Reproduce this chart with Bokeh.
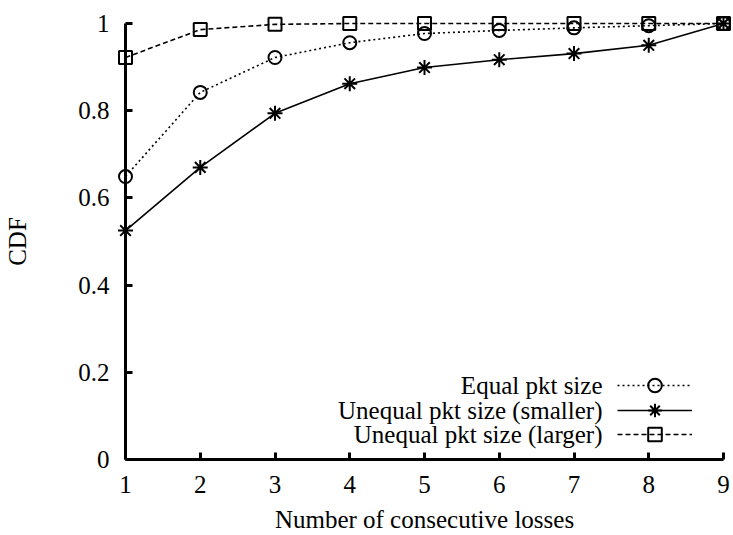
from bokeh.plotting import figure
from bokeh.models import (Range1d, FixedTicker, Legend, LegendItem, Label)
from bokeh.embed import file_html
from bokeh.resources import INLINE

# Consecutive-loss CDF for three packet-size configurations
losses = [1, 2, 3, 4, 5, 6, 7, 8, 9]
equal_pkt = [0.649, 0.842, 0.922, 0.956, 0.977, 0.984, 0.990, 0.995, 1.0]
unequal_smaller = [0.525, 0.670, 0.794, 0.862, 0.899, 0.917, 0.931, 0.950, 1.0]
unequal_larger = [0.922, 0.986, 0.998, 1.0, 1.0, 1.0, 1.0, 1.0, 1.0]

series_names = ["Equal pkt size", "Unequal pkt size (smaller)", "Unequal pkt size (larger)"]
x_ticks = [1, 2, 3, 4, 5, 6, 7, 8, 9]
y_ticks = [0, 0.2, 0.4, 0.6, 0.8, 1]
y_tick_labels = ["0", "0.2", "0.4", "0.6", "0.8", "1"]

FONT = "Liberation Serif"
FS = "25px"

p = figure(width=733, height=535, output_backend="svg", toolbar_location=None,
           x_range=Range1d(1, 9), y_range=Range1d(0, 1),
           min_border_left=125, min_border_right=10,
           min_border_top=23, min_border_bottom=76)
p.outline_line_color = None
p.grid.visible = False
p.background_fill_color = "white"
p.border_fill_color = "white"

for ax in (p.xaxis[0], p.yaxis[0]):
    ax.axis_line_width = 3
    ax.major_tick_line_width = 3
    ax.major_tick_in = 7
    ax.major_tick_out = 0
    ax.minor_tick_line_color = None
    ax.major_label_text_font = FONT
    ax.major_label_text_font_size = FS
    ax.major_label_text_color = "black"
    ax.axis_label_text_font = FONT
    ax.axis_label_text_font_size = FS
    ax.axis_label_text_font_style = "normal"
    ax.axis_label_text_color = "black"

p.xaxis.ticker = FixedTicker(ticks=x_ticks)
p.yaxis.ticker = FixedTicker(ticks=y_ticks)
p.yaxis.major_label_overrides = {v: s for v, s in zip(y_ticks, y_tick_labels)}
p.xaxis.axis_label = "Number of consecutive losses"
p.yaxis.axis_label = "CDF"
p.xaxis.major_label_standoff = 16
p.xaxis.axis_label_standoff = 10
p.yaxis.major_label_standoff = 16
p.yaxis.axis_label_standoff = 44

# (values, marker, dash pattern, marker size)
styles = [
    (equal_pkt, "circle", "2 3", 13),
    (unequal_smaller, "asterisk", "solid", 15),
    (unequal_larger, "square", "5 3", 13),
]

# one single-row legend per series so each key sits on its own row
row_offsets = [74, 49, 25]
for (ys, marker, dash, size), name, off in zip(styles, series_names, row_offsets):
    ln = p.line(losses, ys, line_color="black", line_width=1.6,
                line_dash=dash, level="overlay")
    sc = p.scatter(losses, ys, marker=marker, size=size, line_color="black",
                   line_width=2, fill_alpha=0, level="overlay")
    key = Legend(items=[LegendItem(label=" ", renderers=[ln, sc])],
                 location=(492, off - 17), glyph_width=75, glyph_height=34,
                 spacing=0, padding=0, margin=0, label_standoff=0, label_width=0,
                 label_height=0, label_text_font_size="2px",
                 border_line_color=None, background_fill_alpha=0)
    p.add_layout(key, "center")
    p.add_layout(Label(x=477, y=off, x_units="screen", y_units="screen", text=name,
                       text_align="right", text_baseline="middle",
                       text_font=FONT, text_font_size=FS, text_color="black"))

open("out.html", "w").write(file_html(p, INLINE))
